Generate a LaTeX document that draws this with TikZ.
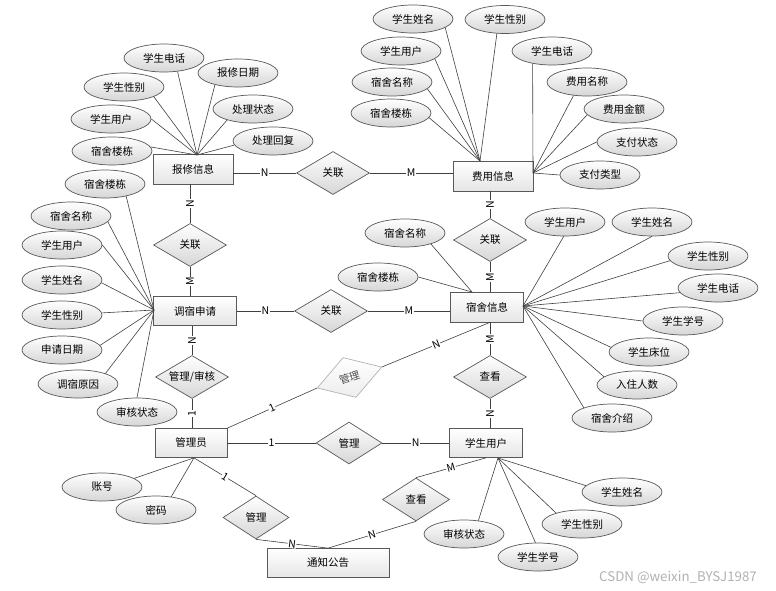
\documentclass[tikz,border=0pt]{standalone}
\usepackage{fontspec}
\setmainfont{Noto Sans CJK SC}
\usetikzlibrary{shapes.geometric,calc}
\tikzset{
 base/.style={draw=black!65, line width=0.7pt, top color=white, bottom color=black!16, font=\fontsize{10.5}{12}\selectfont, inner sep=0.5pt},
 ent/.style={base, rectangle, minimum width=80pt, minimum height=30pt, bottom color=black!10},
 attr/.style={base, ellipse, minimum width=80pt, minimum height=28pt},
 rel/.style={base, diamond, aspect=1.7, minimum width=73pt, minimum height=43pt},
 rrel/.style={base, diamond, aspect=1.7, draw=black!30, bottom color=black!7, text=black!70, minimum width=68pt, minimum height=42pt, rotate=18},
 ln/.style={draw=black!75, line width=0.6pt},
 lbl/.style={fill=white, inner sep=0.6pt, font=\fontsize{10.5}{11}\selectfont, text=black},
 vl/.style={lbl, rotate=90}
}
\begin{document}
\begin{tikzpicture}[x=1pt,y=-1pt]
\useasboundingbox[fill=white] (0,0) rectangle (776,591);
% entities
\node[ent] (bx) at (193,169) {报修信息};
\node[ent] (fy) at (493,176) {费用信息};
\node[ent, minimum width=83pt, minimum height=29pt] (dx) at (195,311) {调宿申请};
\node[ent, minimum width=73pt] (ss) at (487,307) {宿舍信息};
\node[ent, minimum width=73pt, minimum height=29pt] (xs) at (486,443) {学生用户};
\node[ent, minimum width=72pt, minimum height=29pt] (gl) at (191,443) {管理员};
\node[ent, minimum width=122pt, minimum height=29pt] (tz) at (328,563) {通知公告};
% relations
\node[rel] (r1) at (333,173) {关联};
\node[rel] (r2) at (190,245) {关联};
\node[rel] (r3) at (331,311) {关联};
\node[rel] (r4) at (490,240) {关联};
\node[rel] (r5) at (192,377) {管理/审核};
\node[rel] (r6) at (490,377) {查看};
\node[rel, minimum width=66pt, minimum height=42pt] (r7) at (349,443) {管理};
\node[rel, minimum width=67pt] (r8) at (416,499.5) {查看};
\node[rel, minimum width=66pt] (r9) at (256,517.5) {管理};
\node[rrel] (r10) at (349.5,377.5) {管理};
% attributes of 报修信息
\node[attr] (a1) at (164,58) {学生电话};
\node[attr] (a2) at (238,73) {报修日期};
\node[attr] (a3) at (124,87) {学生性别};
\node[attr] (a4) at (253,109) {处理状态};
\node[attr] (a5) at (111,119) {学生用户};
\node[attr] (a6) at (273,141) {处理回复};
\node[attr] (a7) at (112,151) {宿舍楼栋};
% attributes of 调宿申请
\node[attr] (b1) at (105,184) {宿舍楼栋};
\node[attr] (b2) at (71,216) {宿舍名称};
\node[attr] (b3) at (62,245) {学生用户};
\node[attr] (b4) at (62,280) {学生姓名};
\node[attr] (b5) at (62,315) {学生性别};
\node[attr] (b6) at (62,350) {申请日期};
\node[attr] (b7) at (78,384) {调宿原因};
\node[attr] (b8) at (137,412) {审核状态};
% attributes of 费用信息
\node[attr] (c1) at (413,19) {学生姓名};
\node[attr] (c2) at (505,19.5) {学生性别};
\node[attr] (c3) at (401,51) {学生用户};
\node[attr] (c4) at (552,51) {学生电话};
\node[attr] (c5) at (392,82) {宿舍名称};
\node[attr] (c6) at (587,82) {费用名称};
\node[attr] (c7) at (391,113) {宿舍楼栋};
\node[attr] (c8) at (624,109) {费用金额};
\node[attr] (c9) at (637,142) {支付状态};
\node[attr] (c10) at (600,175) {支付类型};
% attributes of 宿舍信息
\node[attr] (d1) at (405,233) {宿舍名称};
\node[attr] (d2) at (378,277) {宿舍楼栋};
\node[attr] (d3) at (565,222) {学生用户};
\node[attr] (d4) at (652,222) {学生姓名};
\node[attr] (d5) at (708,256) {学生性别};
\node[attr] (d6) at (718,288) {学生电话};
\node[attr] (d7) at (683,321) {学生学号};
\node[attr] (d8) at (649,352) {学生床位};
\node[attr] (d9) at (637,385) {入住人数};
\node[attr] (d10) at (612,418) {宿舍介绍};
% attributes of 学生用户
\node[attr] (e1) at (622,492) {学生姓名};
\node[attr] (e2) at (582,524) {学生性别};
\node[attr] (e3) at (464,534) {审核状态};
\node[attr] (e4) at (538,557) {学生学号};
% attributes of 管理员
\node[attr] (g1) at (102,487) {账号};
\node[attr] (g2) at (156,510) {密码};
% convergence points
\coordinate (pbx) at (197,155);
\coordinate (pdx) at (154,310);
\coordinate (pfy1) at (480,161);
\coordinate (pfy2) at (533,173);
\coordinate (pss1) at (472,292);
\coordinate (pss2) at (523,306);
\coordinate (pxs) at (498,458);
% attribute lines
\foreach \n/\a in {a1/-45,a2/207,a3/-18,a4/203,a5/0,a6/186,a7/6}
  \draw[ln] (\n.\a) -- (pbx);
\foreach \n/\a in {b1/-30,b2/-9,b3/0,b4/-4,b5/3,b6/7,b7/21,b8/90}
  \draw[ln] (\n.\a) -- (pdx);
\foreach \n/\a in {c1/-15,c2/240,c3/-13,c5/-11,c7/-7}
  \draw[ln] (\n.\a) -- (pfy1);
\foreach \n/\a in {c4/213,c6/225,c8/189,c9/180,c10/180}
  \draw[ln] (\n.\a) -- (pfy2);
\foreach \n/\a in {d1/-23,d2/0}
  \draw[ln] (\n.\a) -- (pss1);
\foreach \n/\a in {d3/265,d4/270,d5/187,d6/187,d7/180,d8/173,d9/166,d10/160}
  \draw[ln] (\n.\a) -- (pss2);
\foreach \n/\a in {e1/170,e2/157,e3/43,e4/100}
  \draw[ln] (\n.\a) -- (pxs);
\foreach \n/\a in {g1/15,g2/41}
  \draw[ln] (\n.\a) -- ($(gl.south)+(3,0)$);
% relationship lines
\draw[ln] (r1.west -| bx.east) -- node[lbl]{N} (r1.west);
\draw[ln] (r1.east) -- node[lbl]{M} (r1.east -| fy.west);
\draw[ln] (r2.north |- bx.south) -- node[vl]{N} (r2.north);
\draw[ln] (r2.south) -- node[vl]{M} (r2.south |- dx.north);
\draw[ln] (r5.north |- dx.south) -- node[vl]{N} (r5.north);
\draw[ln] (r5.south) -- node[vl]{1} (r5.south |- gl.north);
\draw[ln] (r3.west -| dx.east) -- node[lbl]{N} (r3.west);
\draw[ln] (r3.east) -- node[lbl]{M} (r3.east -| ss.west);
\draw[ln] (r4.north |- fy.south) -- node[vl]{N} (r4.north);
\draw[ln] (r4.south) -- node[vl]{M} (r4.south |- ss.north);
\draw[ln] (r6.north |- ss.south) -- node[vl]{M} (r6.north);
\draw[ln] (r6.south) -- node[vl]{N} (r6.south |- xs.north);
\draw[ln] (r7.west -| gl.east) -- node[lbl]{1} (r7.west);
\draw[ln] (r7.east) -- node[lbl]{N} (r7.east -| xs.west);
\draw[ln] (gl.north east) -- node[lbl,sloped]{1} (r10.west);
\draw[ln] (r10.east) -- node[lbl,sloped]{N} (r6.north |- ss.south);
\draw[ln] ($(gl.south)+(3,0)$) -- node[lbl,sloped]{1} (r9.north);
\draw[ln] (r9.south) -- node[lbl,sloped]{N} (tz.north);
\draw[ln] (xs.south) -- node[lbl,sloped]{M} (r8.north);
\draw[ln] (r8.south) -- node[lbl,sloped]{N} (tz.north);
% watermark
\node[anchor=west, text=black!30, font=\fontsize{13.3}{14}\selectfont, inner sep=0pt] (wm) at (599,577) {CSDN @weixin\_BYSJ1987};
\end{tikzpicture}
\end{document}
